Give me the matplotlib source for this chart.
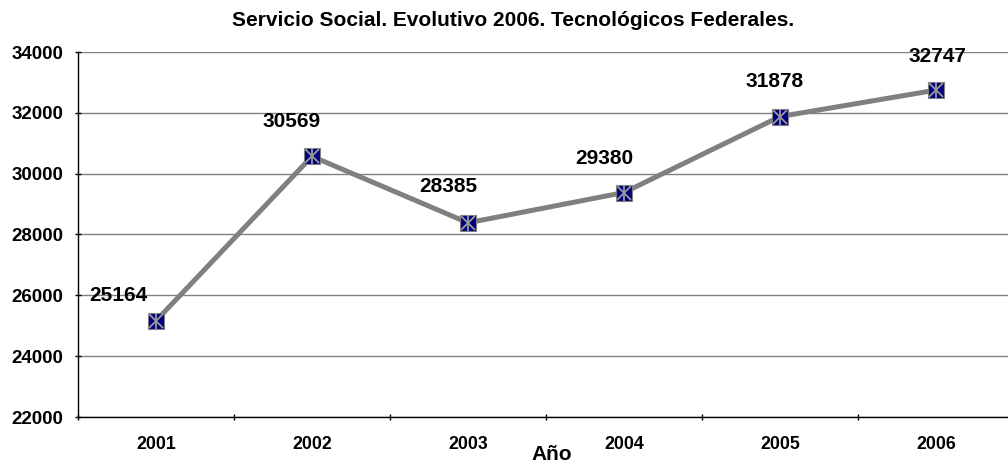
import matplotlib
matplotlib.use("Agg")
import matplotlib.pyplot as plt

# Data
years = ["2001", "2002", "2003", "2004", "2005", "2006"]
values = [25164, 30569, 28385, 29380, 31878, 32747]
y_ticks = [22000, 24000, 26000, 28000, 30000, 32000, 34000]

# label offsets in pixels (dx, dy), Excel-like placement
label_offsets = [(-38, 25), (-20, 35), (-20, 36), (-20, 34), (-5, 35), (1, 34)]

plt.rcParams['font.family'] = ['Liberation Sans', 'DejaVu Sans']
plt.rcParams['font.weight'] = 'bold'

fig = plt.figure(figsize=(10.08, 4.68), dpi=100)
ax = fig.add_axes([78/1008, 51/468, 936/1008, 365/468])

x = list(range(len(years)))

ax.plot(x, values, color='#808080', linewidth=3.6, zorder=3)
ax.plot(x, values, linestyle='none', marker='s', markersize=11.5,
        markerfacecolor='#000080', markeredgecolor='#808080',
        markeredgewidth=0.8, zorder=4)
ax.plot(x, values, linestyle='none', marker='x', markersize=10,
        markeredgecolor='#9a9a9a', markeredgewidth=1.3, zorder=5)
ax.plot(x, values, linestyle='none', marker='|', markersize=11.5,
        markeredgecolor='#9a9a9a', markeredgewidth=1.3, zorder=5)

for i, v in enumerate(values):
    dx, dy = label_offsets[i]
    ax.annotate(str(v), (i, v), xytext=(dx * 0.72, dy * 0.72),
                textcoords='offset points', ha='center', va='center',
                fontsize=15, fontweight='bold')

ax.set_xlim(-0.5, len(years) - 0.5)
ax.set_ylim(22000, 34000)
ax.set_yticks(y_ticks)
ax.set_yticklabels([str(t) for t in y_ticks], fontsize=13.5, fontweight='bold')
ax.set_xticks([i + 0.5 for i in range(-1, len(years))])
ax.set_xticklabels([])
ax.set_xticks(x, minor=True)
ax.set_xticklabels(years, minor=True, fontsize=12.8, fontweight='bold')
ax.tick_params(axis='x', which='minor', length=0, pad=14)
ax.tick_params(axis='x', which='major', length=5, direction='inout', width=1)
ax.tick_params(axis='y', length=5, direction='inout', width=1, pad=8)

ax.grid(True, axis='y', color='#808080', linewidth=1)
ax.set_axisbelow(True)
for s in ['top', 'right']:
    ax.spines[s].set_visible(False)
ax.spines['left'].set_linewidth(1)
ax.spines['bottom'].set_linewidth(1)
ax.spines['bottom'].set_zorder(2)

fig.text(513/1008, 1 - 20/468, 'Servicio Social. Evolutivo 2006. Tecnológicos Federales.',
         ha='center', va='center', fontsize=15, fontweight='bold')
fig.text(552/1008, 1 - 455/468, 'Año', ha='center', va='center',
         fontsize=15, fontweight='bold')

fig.savefig('out.png', dpi=100)
